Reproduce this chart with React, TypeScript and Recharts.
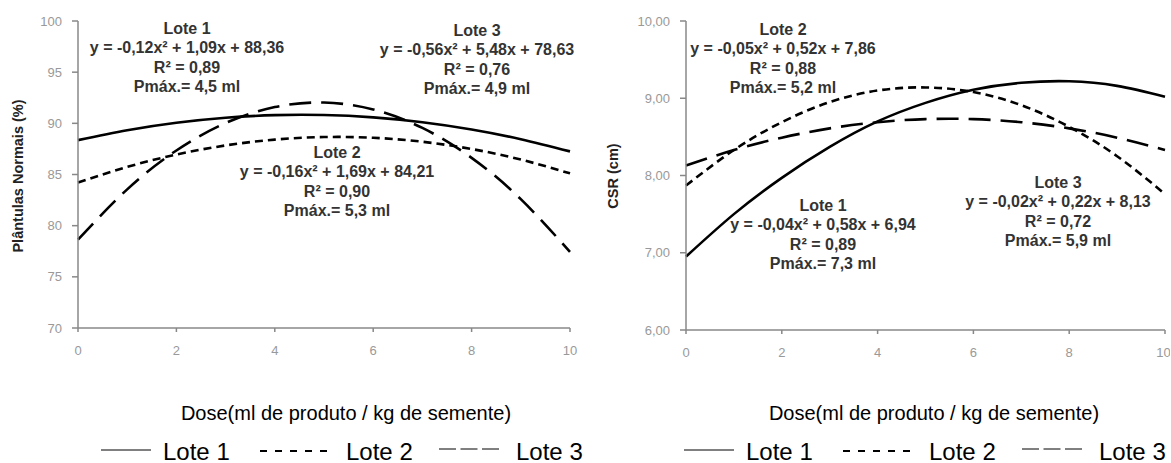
import React from 'react';
import { LineChart, Line, XAxis, YAxis } from 'recharts';

const doses = [0, 1, 2, 3, 4, 5, 6, 7, 8, 9, 10];
const doseTicks = [0, 2, 4, 6, 8, 10];

// Plântulas normais (%)
const germLote1 = [88.36, 89.33, 90.06, 90.55, 90.8, 90.81, 90.58, 90.11, 89.4, 88.45, 87.26];
const germLote2 = [84.21, 85.74, 86.95, 87.84, 88.41, 88.66, 88.59, 88.2, 87.49, 86.46, 85.11];
const germLote3 = [78.63, 83.55, 87.35, 90.03, 91.59, 92.03, 91.35, 89.55, 86.63, 82.59, 77.43];
const germTicks = [70, 75, 80, 85, 90, 95, 100];

// CSR (cm)
const csrLote1 = [6.95, 7.5, 7.97, 8.37, 8.7, 8.94, 9.11, 9.2, 9.22, 9.16, 9.02];
const csrLote2 = [7.87, 8.33, 8.69, 8.95, 9.1, 9.14, 9.08, 8.91, 8.63, 8.25, 7.76];
const csrLote3 = [8.13, 8.33, 8.49, 8.61, 8.69, 8.73, 8.73, 8.69, 8.61, 8.49, 8.33];
const csrTicks = [6, 7, 8, 9, 10];

const germEquations = [
  ['Lote 1', 'y = -0,12x² + 1,09x + 88,36', 'R² = 0,89', 'Pmáx.= 4,5 ml'],
  ['Lote 2', 'y = -0,16x² + 1,69x + 84,21', 'R² = 0,90', 'Pmáx.= 5,3 ml'],
  ['Lote 3', 'y = -0,56x² + 5,48x + 78,63', 'R² = 0,76', 'Pmáx.= 4,9 ml'],
];
const csrEquations = [
  ['Lote 1', 'y = -0,04x² + 0,58x + 6,94', 'R² = 0,89', 'Pmáx.= 7,3 ml'],
  ['Lote 2', 'y = -0,05x² + 0,52x + 7,86', 'R² = 0,88', 'Pmáx.= 5,2 ml'],
  ['Lote 3', 'y = -0,02x² + 0,22x + 8,13', 'R² = 0,72', 'Pmáx.= 5,9 ml'],
];

const xTitle = 'Dose(ml de produto / kg de semente)';
const FONT = '"Liberation Sans", Arial, sans-serif';

const germData = doses.map((d, i) => ({ dose: d, l1: germLote1[i], l2: germLote2[i], l3: germLote3[i] }));
const csrData = doses.map((d, i) => ({ dose: d, l1: csrLote1[i], l2: csrLote2[i], l3: csrLote3[i] }));

const seriesStyle = [
  { key: 'l1', dash: undefined },
  { key: 'l2', dash: '8 5' },
  { key: 'l3', dash: '22 10' },
];

const tickStyle = { fill: '#999', fontSize: 13, fontFamily: FONT };

// where each equation block sits (centre x, first line y), panel-relative
const germNotePos = [
  { x: 187, y: 28 },
  { x: 337, y: 152 },
  { x: 477, y: 30 },
];
const csrNotePos = [
  { x: 238, y: 205 },
  { x: 198, y: 29 },
  { x: 473, y: 182 },
];

const Note = ({ lines, x, y }: { lines: string[]; x: number; y: number }) => (
  <text x={x} y={y} textAnchor="middle" fontFamily={FONT} fontSize={16} fontWeight="bold" fill="#333">
    {lines.map((l, i) => (
      <tspan key={i} x={x} y={y + i * 19.5} dominantBaseline="central">
        {l}
      </tspan>
    ))}
  </text>
);

const Legend = ({ x }: { x: number }) => {
  const y = 451;
  return (
    <g fontFamily={FONT} fontSize={24} fill="#000">
      <line x1={x} x2={x + 50} y1={y - 1} y2={y - 1} stroke="#000" strokeWidth={1} />
      <text x={x + 62} y={y} dominantBaseline="central">Lote 1</text>
      <line x1={x + 159} x2={x + 227} y1={y} y2={y} stroke="#000" strokeWidth={2} strokeDasharray="7 8" />
      <text x={x + 245} y={y} dominantBaseline="central">Lote 2</text>
      <line x1={x + 338} x2={x + 398} y1={y - 2} y2={y - 2} stroke="#000" strokeWidth={1} strokeDasharray="17 4.5" />
      <text x={x + 415} y={y} dominantBaseline="central">Lote 3</text>
    </g>
  );
};

const Panel = ({
  data,
  domain,
  ticks,
  yWidth,
  right,
  bottom,
  fmt,
  yTitle,
  yTitleX,
  notes,
  notePos,
  legendX,
  titleX,
}: any) => (
  <div style={{ position: 'relative', width: 585, height: 463 }}>
    <LineChart width={585} height={463} data={data} margin={{ top: 21, right, left: 0, bottom }}>
      <XAxis
        dataKey="dose"
        type="number"
        domain={[0, 10]}
        ticks={doseTicks}
        height={30}
        tickSize={4}
        tickMargin={14}
        tick={tickStyle}
        stroke="#888"
        strokeWidth={1.5}
      />
      <YAxis
        type="number"
        domain={domain}
        ticks={ticks}
        width={yWidth}
        tickSize={6}
        tickMargin={10}
        tick={tickStyle}
        tickFormatter={fmt}
        stroke="#888"
        strokeWidth={1.5}
      />
      {seriesStyle.map((s) => (
        <Line
          key={s.key}
          dataKey={s.key}
          type="natural"
          stroke="#000"
          strokeWidth={2.6}
          strokeDasharray={s.dash}
          dot={false}
          isAnimationActive={false}
        />
      ))}
    </LineChart>
    <svg width={585} height={463} style={{ position: 'absolute', left: 0, top: 0, pointerEvents: 'none', overflow: 'visible' }}>
      <text
        x={yTitleX}
        y={176}
        transform={`rotate(-90 ${yTitleX} 176)`}
        textAnchor="middle"
        dominantBaseline="central"
        fontFamily={FONT}
        fontSize={14.5}
        fontWeight="bold"
        fill="#222"
      >
        {yTitle}
      </text>
      {notes.map((lines: string[], i: number) => (
        <Note key={i} lines={lines} x={notePos[i].x} y={notePos[i].y} />
      ))}
      <text x={titleX} y={413} textAnchor="middle" dominantBaseline="central" fontFamily={FONT} fontSize={20} fill="#000">
        {xTitle}
      </text>
      <Legend x={legendX} />
    </svg>
  </div>
);

export default function App() {
  return (
    <div style={{ position: 'absolute', left: 0, top: 0, width: 1171, height: 463, background: '#fff', display: 'flex', overflow: 'hidden' }}>
      <Panel
        data={germData}
        domain={[70, 100]}
        ticks={germTicks}
        yWidth={78}
        right={15}
        bottom={105}
        fmt={(v: number) => String(v)}
        yTitle="Plântulas Normais (%)"
        yTitleX={18}
        notes={germEquations}
        notePos={germNotePos}
        legendX={101}
        titleX={346}
      />
      <div style={{ width: 586, height: 463, overflow: 'hidden' }}>
        <Panel
          data={csrData}
          domain={[6, 10]}
          ticks={csrTicks}
          yWidth={101}
          right={5}
          bottom={103}
          fmt={(v: number) => v.toFixed(2).replace('.', ',')}
          yTitle="CSR (cm)"
          yTitleX={28}
          notes={csrEquations}
          notePos={csrNotePos}
          legendX={99}
          titleX={349}
        />
      </div>
    </div>
  );
}
